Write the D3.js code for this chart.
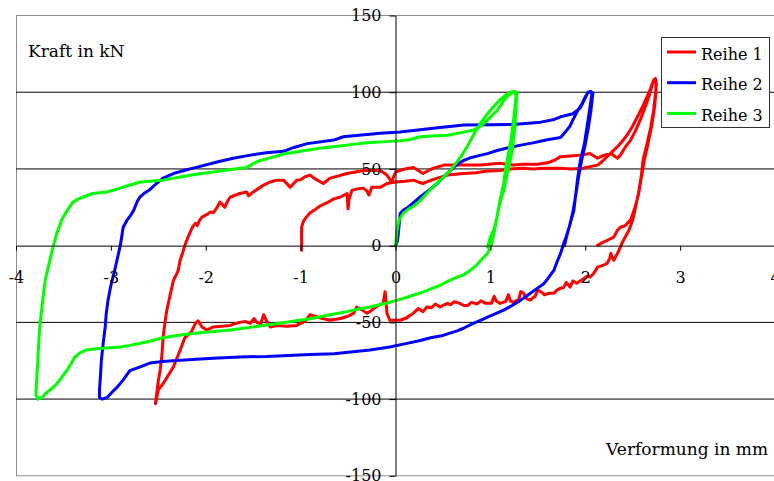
<!DOCTYPE html>
<html><head><meta charset="utf-8">
<script src="https://cdn.jsdelivr.net/npm/d3@7"></script>
<style>
  html,body{margin:0;padding:0;background:#fff}
  svg{display:block}
  text{font-family:"DejaVu Serif",serif;fill:#000}
</style>
</head><body>
<svg id="chart" width="774" height="481"></svg>
<script>
// Axis ticks
const xTicks = [-4, -3, -2, -1, 0, 1, 2, 3, 4];
const yTicks = [-150, -100, -50, 0, 50, 100, 150];
const gridValues = [-100, -50, 50, 100];

// Series names and colours
const seriesNames = ["Reihe 1", "Reihe 2", "Reihe 3"];
const seriesColors = ["#ff0000", "#0000ff", "#00ff00"];

// Reihe 1: [Verformung in mm, Kraft in kN]
const reihe1 = [
  [-0.99,-3],[-0.99,5],[-0.99,12],[-0.97,16],[-0.94,18.6],[-0.9,21.5],[-0.86,23],[-0.79,26],[-0.72,28],
  [-0.65,30.5],[-0.58,31.7],[-0.51,34],[-0.5,24],[-0.49,30],[-0.46,36],[-0.4,37],[-0.34,37.5],[-0.3,35.5],
  [-0.28,33],[-0.25,38],[-0.16,38],[-0.09,40.5],[0,41.5],[0.1,42],[0.19,42.7],[0.24,41.5],[0.29,40.5],
  [0.35,42],[0.44,44],[0.55,46],[0.63,46.5],[0.72,47],[0.85,47.5],[0.95,48.5],[1.1,49],[1.2,50],[1.35,50.5],
  [1.45,50],[1.55,50.5],[1.65,50.5],[1.74,50.5],[1.85,50],[1.98,50.5],[2.05,51.5],[2.13,52.5],[2.18,55],
  [2.23,58],[2.28,61],[2.34,64.5],[2.39,68],[2.44,72],[2.5,78],[2.55,84],[2.6,90],[2.65,97],[2.68,101],
  [2.71,106],[2.74,109],
  [2.75,105],[2.74,99],[2.72,88],[2.69,77],[2.65,66],[2.61,56],[2.59,45],[2.56,34],[2.53,25],[2.5,16.6],
  [2.46,10],[2.42,5.5],[2.39,2],[2.37,-1],[2.34,-5],[2.3,-9.5],[2.28,-7],[2.27,-5],[2.26,-8],[2.23,-11.6],
  [2.2,-12.5],[2.13,-14],[2.09,-18],[2.05,-20.5],[2.02,-20],[1.97,-22],[1.91,-24.5],[1.87,-23],[1.84,-27],
  [1.8,-24],[1.77,-27.5],[1.74,-27.7],[1.7,-29],[1.67,-31],[1.62,-31],[1.57,-32],[1.53,-30],[1.5,-29],
  [1.47,-33],[1.42,-35.5],[1.38,-34.5],[1.35,-31],[1.32,-30],[1.3,-35],[1.24,-37],[1.21,-36],[1.19,-32],
  [1.16,-36.5],[1.1,-37.6],[1.06,-36],[1.04,-33],[1.01,-37.6],[0.95,-37.6],[0.9,-36],[0.86,-38],[0.8,-37],
  [0.76,-39],[0.72,-39],[0.67,-37.5],[0.62,-36.5],[0.58,-38.5],[0.55,-37.6],[0.5,-39],[0.47,-40],[0.42,-38],
  [0.38,-40.5],[0.33,-40],[0.29,-43],[0.24,-41],[0.19,-44],[0.15,-45.5],[0.12,-47],[0.05,-48.6],[-0.02,-48.6],
  [-0.06,-48.6],[-0.09,-44],[-0.1,-36],[-0.11,-30],[-0.12,-34],[-0.13,-37.6],[-0.18,-39],[-0.22,-40.5],
  [-0.27,-43],[-0.3,-44],[-0.35,-42],[-0.41,-40],[-0.44,-44],[-0.5,-46],[-0.58,-47.5],[-0.69,-48.6],[-0.8,-47],
  [-0.9,-45],[-0.95,-49],[-1.04,-52],[-1.15,-52.5],[-1.25,-52],[-1.32,-53],[-1.36,-49],[-1.39,-45],[-1.42,-51],
  [-1.46,-50],[-1.49,-47.5],[-1.53,-50.6],[-1.58,-49.5],[-1.64,-50],[-1.7,-51],[-1.74,-52],[-1.83,-52.5],
  [-1.92,-53],[-1.99,-55],[-2.04,-53],[-2.08,-49],[-2.11,-50.6],[-2.15,-56],[-2.22,-60],[-2.27,-68],[-2.34,-79],
  [-2.4,-85],[-2.45,-90],[-2.5,-94],[-2.53,-103],
  [-2.52,-98],[-2.5,-88],[-2.48,-81],[-2.46,-70],[-2.45,-60],[-2.43,-50],[-2.41,-42],[-2.38,-33.5],[-2.36,-28],
  [-2.34,-22.5],[-2.31,-19],[-2.29,-16],[-2.27,-9.5],[-2.24,-4],[-2.22,0.3],[-2.19,5],[-2.17,8],[-2.14,12],
  [-2.11,14.6],[-2.09,13],[-2.07,16],[-2.04,18.6],[-1.98,20.5],[-1.95,22],[-1.92,21.5],[-1.88,25],[-1.85,28.4],
  [-1.8,25],[-1.77,29],[-1.74,31.7],[-1.64,34],[-1.57,35],[-1.55,32.5],[-1.5,35],[-1.45,37],[-1.39,39.5],
  [-1.32,41.5],[-1.25,42.7],[-1.18,42.7],[-1.11,38],[-1.04,42.7],[-1.0,43],[-0.95,45],[-0.9,46],[-0.86,44],
  [-0.76,40.5],[-0.69,44],[-0.6,45.5],[-0.51,47],[-0.42,48],[-0.34,49],[-0.16,49],[-0.09,46],[-0.04,41.5],
  [0.0,48],[0.1,50],[0.19,51],[0.29,47],[0.35,49],[0.4,50.5],[0.51,52.5],[0.7,52.5],[0.9,52.5],[1.1,53.7],
  [1.24,52.5],[1.35,53],[1.5,53],[1.6,54],[1.67,55.5],[1.74,58],[1.85,58.5],[1.95,59],[2.05,60],[2.13,57],
  [2.2,59],[2.27,60],[2.34,57],[2.37,59],[2.42,64],[2.48,69],[2.53,75],[2.58,82],[2.63,90],[2.67,97],[2.72,108],
  [2.745,107],[2.745,100],[2.73,90],[2.7,78],[2.66,66],[2.62,55],[2.59,44],[2.56,33],[2.52,24],[2.48,17],
  [2.42,13],[2.37,12],[2.34,10],[2.3,5.5],[2.25,4],[2.18,2],[2.13,0.3]
];

// Reihe 2
const reihe2 = [
  [0,0],[0.02,3],[0.03,8],[0.04,15],[0.05,21],[0.08,23],[0.12,24.5],[0.19,28],[0.26,31.7],[0.35,36],[0.44,40.5],
  [0.51,45],[0.58,49],[0.65,53],[0.72,55.6],[0.8,57.5],[0.9,59],[0.97,60],[1.07,62],[1.2,64],[1.32,65.5],
  [1.45,67],[1.6,69],[1.74,70.5],[1.79,74],[1.84,78],[1.87,82],[1.92,88],[1.97,93],[2.0,97],[2.03,100],[2.06,100.5],
  [2.07,99],[2.05,90],[2.02,78],[1.99,66],[1.95,56],[1.92,44],[1.88,23],[1.84,14],[1.8,6],[1.77,1],[1.74,-5],
  [1.7,-11],[1.67,-16],[1.6,-22],[1.56,-25],[1.49,-28],[1.4,-32],[1.32,-35.5],[1.23,-39],[1.14,-42],[1.05,-44.5],
  [0.97,-46.6],[0.9,-48.6],[0.82,-50.6],[0.71,-54],[0.65,-55.5],[0.5,-58.5],[0.37,-60],[0.25,-62],[0.12,-63.7],
  [-0.06,-66],[-0.27,-68],[-0.65,-70.5],[-0.9,-71],[-1.36,-72.2],[-1.64,-72.5],[-1.92,-73.4],[-2.27,-74.7],
  [-2.45,-75.5],[-2.59,-76.5],[-2.69,-79],[-2.8,-81.5],[-2.87,-87.5],[-2.93,-92],[-2.98,-95],[-3.04,-99],
  [-3.09,-100],[-3.12,-99],
  [-3.12,-94],[-3.11,-85],[-3.1,-74.7],[-3.08,-63],[-3.06,-53],[-3.05,-45],[-3.03,-35.5],[-3.0,-26],[-2.96,-16],
  [-2.93,-8],[-2.9,0.3],[-2.87,12],[-2.83,16.6],[-2.8,19],[-2.76,23],[-2.72,29],[-2.69,32],[-2.64,34.5],
  [-2.59,36.5],[-2.52,40.5],[-2.45,44],[-2.34,47],[-2.2,49.5],[-2.1,51],[-1.88,54.5],[-1.71,57],[-1.53,59],
  [-1.36,60.5],[-1.18,61.5],[-1.07,64],[-0.93,66.5],[-0.65,68.8],[-0.55,71],[-0.3,72.5],[-0.16,73.2],[0.05,74],
  [0.19,75],[0.47,77],[0.72,78.6],[1.0,78.8],[1.24,79],[1.53,80.5],[1.66,82],[1.74,84],[1.87,86],[1.95,90],
  [1.99,95],[2.02,99],[2.05,100.5],
  [2.08,99.5],[2.06,88],[2.03,76],[2.0,66],[1.96,55],[1.93,45],[1.9,33],[1.87,22],[1.83,12],[1.8,5],[1.78,0]
];

// Reihe 3
const reihe3 = [
  [0,0],[0.01,6],[0.02,12],[0.04,17],[0.08,21],[0.14,24],[0.2,26],[0.27,30],[0.33,34],[0.4,38.5],[0.47,42.7],
  [0.53,46],[0.58,49],[0.64,54],[0.7,59],[0.76,65],[0.82,72],[0.9,80],[0.97,86],[1.04,91],[1.1,95],[1.16,98],
  [1.21,100],[1.25,100.5],
  [1.28,100],[1.27,90],[1.26,78],[1.24,68],[1.23,62],[1.2,53],[1.17,45],[1.14,36],[1.1,27.7],[1.07,19],[1.05,12],
  [1.03,6],[1.01,0],[0.97,-5],[0.9,-9.5],[0.85,-13],[0.79,-16],[0.72,-19],[0.65,-20.5],[0.56,-23],[0.47,-25.8],
  [0.38,-28],[0.29,-30.3],[0.2,-32],[0.1,-34],[0.02,-35.5],[-0.1,-37.5],[-0.27,-40],[-0.4,-41.5],[-0.51,-43],
  [-0.69,-45],[-0.9,-47.6],[-1.05,-49],[-1.22,-50.6],[-1.45,-52.5],[-1.74,-55],[-2.09,-57],[-2.3,-58.5],
  [-2.45,-60],[-2.6,-62.5],[-2.8,-65],[-2.9,-66],[-3.12,-67],[-3.26,-68],[-3.33,-70],[-3.38,-72.7],[-3.42,-77],
  [-3.46,-81],[-3.52,-86],[-3.57,-90],[-3.63,-93.5],[-3.68,-96],[-3.73,-99],[-3.77,-100],
  [-3.79,-97],[-3.78,-85],[-3.77,-74.7],[-3.76,-63],[-3.75,-53],[-3.73,-42],[-3.71,-31],[-3.69,-22],[-3.66,-14],
  [-3.63,-6],[-3.61,-1],[-3.57,8],[-3.52,16.6],[-3.49,20],[-3.46,23],[-3.4,28.4],[-3.34,30.5],[-3.29,31.7],
  [-3.19,34],[-3.04,35],[-2.9,37.5],[-2.8,39.5],[-2.69,41.5],[-2.45,42.7],[-2.27,44.7],[-2.1,46.5],[-1.92,48],
  [-1.75,49.5],[-1.57,51],[-1.45,55],[-1.3,57.5],[-1.18,59.7],[-1.0,61.5],[-0.8,63.5],[-0.65,64.5],[-0.45,66],
  [-0.3,67],[-0.1,67.8],[0.05,68.4],[0.15,69],[0.26,71],[0.4,71.5],[0.55,72],[0.72,74],[0.8,75],[0.86,76.5],
  [0.92,79],[0.97,82],[1.02,85],[1.07,88],[1.12,92.5],[1.17,97],[1.23,99.5],[1.26,100.5],
  [1.27,97],[1.25,85],[1.22,70],[1.19,60],[1.16,50],[1.14,40.5],[1.1,29],[1.07,18.6],[1.04,11],[1.0,5.5],[0.97,-1]
];

const seriesData = [reihe1, reihe2, reihe3];

const svg = d3.select("#chart");
const x = d3.scaleLinear().domain([-4, 4]).range([16, 775]);
const y = d3.scaleLinear().domain([-150, 150]).range([475.8, 15.5]);

// Plot area frame
svg.append("rect")
  .attr("x", x(-4) + 0.5).attr("y", y(150))
  .attr("width", x(4) - x(-4)).attr("height", y(-150) - y(150))
  .attr("fill", "none").attr("stroke", "#8c8c8c").attr("stroke-width", 1);

// Horizontal gridlines
svg.append("g").selectAll("line").data(gridValues).join("line")
  .attr("x1", x(-4)).attr("x2", x(4))
  .attr("y1", d => y(d)).attr("y2", d => y(d))
  .attr("stroke", "#000").attr("stroke-width", 1);

// Data curves
const line = d3.line().x(d => x(d[0])).y(d => y(d[1]));
svg.append("g").selectAll("path").data(seriesData).join("path")
  .attr("d", line)
  .attr("fill", "none")
  .attr("stroke", (d, i) => seriesColors[i])
  .attr("stroke-width", 3)
  .attr("stroke-linejoin", "round")
  .attr("stroke-linecap", "round");

// Axes crossing at the origin
const fmt = d => String(d);
const yAxis = svg.append("g")
  .attr("transform", `translate(${x(0)},0)`)
  .call(d3.axisLeft(y).tickValues(yTicks).tickFormat(fmt).tickSize(6).tickSizeOuter(0).tickPadding(8));
const xAxis = svg.append("g")
  .attr("transform", `translate(0,${y(0)})`)
  .call(d3.axisBottom(x).tickValues(xTicks).tickFormat(fmt).tickSize(5).tickSizeOuter(0).tickPadding(21));
[yAxis, xAxis].forEach(g => {
  g.selectAll("text").style("font-family", '"DejaVu Serif", serif').style("font-size", "16px").attr("fill", "#000");
  g.selectAll("line,path").attr("stroke", "#000");
});

// Axis titles
svg.append("text").attr("x", 28).attr("y", 57).style("font-size", "17px").text("Kraft in kN");
svg.append("text").attr("x", 768).attr("y", 455).attr("text-anchor", "end").style("font-size", "17px").text("Verformung in mm");

// Legend
const legend = svg.append("g");
legend.append("rect").attr("x", 661.5).attr("y", 37.5).attr("width", 108).attr("height", 90)
  .attr("fill", "#fff").attr("stroke", "#333").attr("stroke-width", 1);
const items = legend.selectAll("g.item").data(seriesNames).join("g")
  .attr("transform", (d, i) => `translate(0,${52 + i * 30.7})`);
items.append("line").attr("x1", 667).attr("x2", 696).attr("y1", 0).attr("y2", 0)
  .attr("stroke", (d, i) => seriesColors[i]).attr("stroke-width", 3);
items.append("text").attr("x", 701).attr("y", 7.5).style("font-size", "16px").text(d => d);
</script>
</body></html>
